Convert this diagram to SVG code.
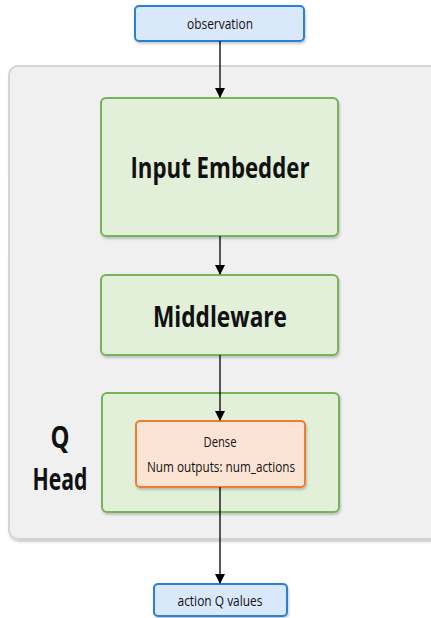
<svg xmlns="http://www.w3.org/2000/svg" width="431" height="618" viewBox="0 0 431 618">
<style>
text{font-family:"Open Sans","Liberation Sans",sans-serif;fill:#111;text-anchor:middle;dominant-baseline:central}
.io{fill:#dae8fc;stroke:#2b7fd6;stroke-width:2}
.grn{fill:#e2efd9;stroke:#77b35a;stroke-width:2}
.org{fill:#fce4d4;stroke:#ee7d31;stroke-width:2}
.cont{fill:#f0f0f0;stroke:#d4d4d4;stroke-width:2}
.big{font-weight:bold;font-size:28px}
.qh{font-weight:bold;font-size:31px}
.sm{font-size:14px}
.edge{stroke:#000;stroke-width:1.3;fill:none;marker-end:url(#ah)}
</style>
<defs>
<marker id="ah" markerWidth="10" markerHeight="10" refX="9" refY="5" orient="auto" markerUnits="userSpaceOnUse">
<path d="M0,0 L10,5 L0,10 Z" fill="#000"/>
</marker>
<filter id="sh" x="-10%" y="-10%" width="120%" height="130%">
<feDropShadow dx="1" dy="2" stdDeviation="1.2" flood-color="#000" flood-opacity="0.2"/>
</filter>
</defs>
<rect width="431" height="618" fill="#fff"/>
<g id="container">
<rect class="cont" x="9" y="66" width="430" height="473" rx="9" filter="url(#sh)"/>
<text class="qh" x="60" y="436" textLength="19" lengthAdjust="spacingAndGlyphs">Q</text>
<text class="qh" x="60" y="478" textLength="55" lengthAdjust="spacingAndGlyphs">Head</text>
</g>
<g id="observation">
<rect class="io" x="135" y="6" width="169" height="35" rx="4" filter="url(#sh)"/>
<text class="sm" x="220" y="23" textLength="66" lengthAdjust="spacingAndGlyphs">observation</text>
</g>
<g id="input_embedder">
<rect class="grn" x="101" y="98" width="237" height="138" rx="5" filter="url(#sh)"/>
<text class="big" x="220" y="167" textLength="179" lengthAdjust="spacingAndGlyphs">Input Embedder</text>
</g>
<g id="middleware">
<rect class="grn" x="101" y="275" width="237" height="80" rx="5" filter="url(#sh)"/>
<text class="big" x="220" y="316" textLength="134" lengthAdjust="spacingAndGlyphs">Middleware</text>
</g>
<g id="q_head">
<rect class="grn" x="102" y="393" width="237" height="119" rx="5" filter="url(#sh)"/>
</g>
<g id="dense">
<rect class="org" x="136" y="421" width="169" height="66" rx="4" filter="url(#sh)"/>
<text class="sm" x="220" y="441" textLength="33" lengthAdjust="spacingAndGlyphs">Dense</text>
<text class="sm" x="221" y="466" textLength="148" lengthAdjust="spacingAndGlyphs">Num outputs: num_actions</text>
</g>
<g id="action_q_values">
<rect class="io" x="154" y="584" width="133" height="32" rx="4" filter="url(#sh)"/>
<text class="sm" x="220" y="600" textLength="85" lengthAdjust="spacingAndGlyphs">action Q values</text>
</g>
<g id="connectors">
<line class="edge" x1="220" y1="41" x2="220" y2="97"/>
<line class="edge" x1="220" y1="236" x2="220" y2="274"/>
<line class="edge" x1="220" y1="355" x2="220" y2="420"/>
<line class="edge" x1="220" y1="487" x2="220" y2="583"/>
</g>
</svg>
